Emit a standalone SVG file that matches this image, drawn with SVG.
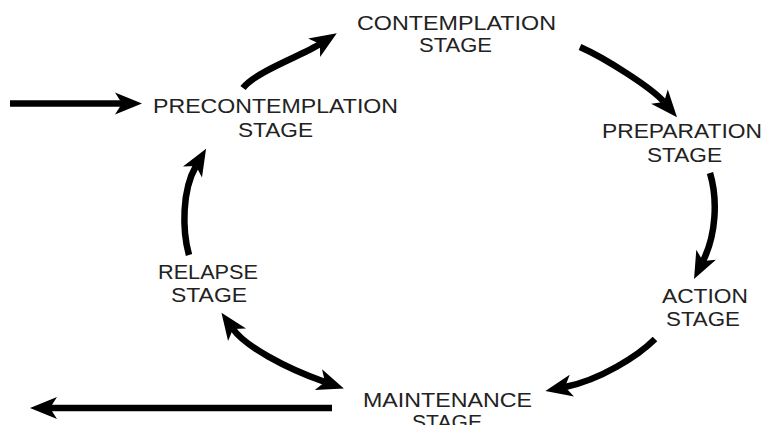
<svg xmlns="http://www.w3.org/2000/svg" width="767" height="425" viewBox="0 0 767 425">
<style>
.t{font-family:"Liberation Sans",Arial,sans-serif;font-size:19.5px;fill:#222;}
.c{fill:none;stroke:#000;stroke-width:6.5;stroke-linecap:butt;}
</style>
<defs>
<marker id="ah" viewBox="-28 -12 30 24" markerWidth="30" markerHeight="24" refX="-20" refY="0" markerUnits="userSpaceOnUse" orient="auto-start-reverse">
<path d="M0,0 L-27,-11 L-20,0 L-27,11 Z" fill="#000"/>
</marker>
</defs>
<rect width="767" height="425" fill="#fff"/>
<g id="connectors">
<path class="c" d="M10,103.5 H122" marker-end="url(#ah)"/>
<path class="c" d="M332,408 H50" marker-end="url(#ah)"/>
<path class="c" d="M243,88 C255,72 303,55 320,44" marker-end="url(#ah)"/>
<path class="c" d="M580,47 C605,58 652,88 664,102" marker-end="url(#ah)"/>
<path class="c" d="M710,173 C718,200 716,235 703,261" marker-end="url(#ah)"/>
<path class="c" d="M655,339 C638,356 600,380 565,387" marker-end="url(#ah)"/>
<path class="c" d="M233,329 C245,346 285,368 325,382" marker-start="url(#ah)" marker-end="url(#ah)"/>
<path class="c" d="M189,255 C182,230 182,190 196,166" marker-end="url(#ah)"/>
</g>
<g id="precontemplation">
<text class="t" x="153" y="113" textLength="245" lengthAdjust="spacingAndGlyphs">PRECONTEMPLATION</text>
<text class="t" x="238" y="137" textLength="75" lengthAdjust="spacingAndGlyphs">STAGE</text>
</g>
<g id="contemplation">
<text class="t" x="357" y="30" textLength="199" lengthAdjust="spacingAndGlyphs">CONTEMPLATION</text>
<text class="t" x="419" y="52" textLength="73" lengthAdjust="spacingAndGlyphs">STAGE</text>
</g>
<g id="preparation">
<text class="t" x="602" y="138" textLength="160" lengthAdjust="spacingAndGlyphs">PREPARATION</text>
<text class="t" x="647" y="162" textLength="75" lengthAdjust="spacingAndGlyphs">STAGE</text>
</g>
<g id="action">
<text class="t" x="662" y="303" textLength="86" lengthAdjust="spacingAndGlyphs">ACTION</text>
<text class="t" x="666" y="326" textLength="74" lengthAdjust="spacingAndGlyphs">STAGE</text>
</g>
<g id="maintenance">
<text class="t" x="363" y="407" textLength="169" lengthAdjust="spacingAndGlyphs">MAINTENANCE</text>
<text class="t" x="412" y="429" textLength="70" lengthAdjust="spacingAndGlyphs">STAGE</text>
</g>
<g id="relapse">
<text class="t" x="158" y="279" textLength="100" lengthAdjust="spacingAndGlyphs">RELAPSE</text>
<text class="t" x="171" y="302" textLength="76" lengthAdjust="spacingAndGlyphs">STAGE</text>
</g>
</svg>
